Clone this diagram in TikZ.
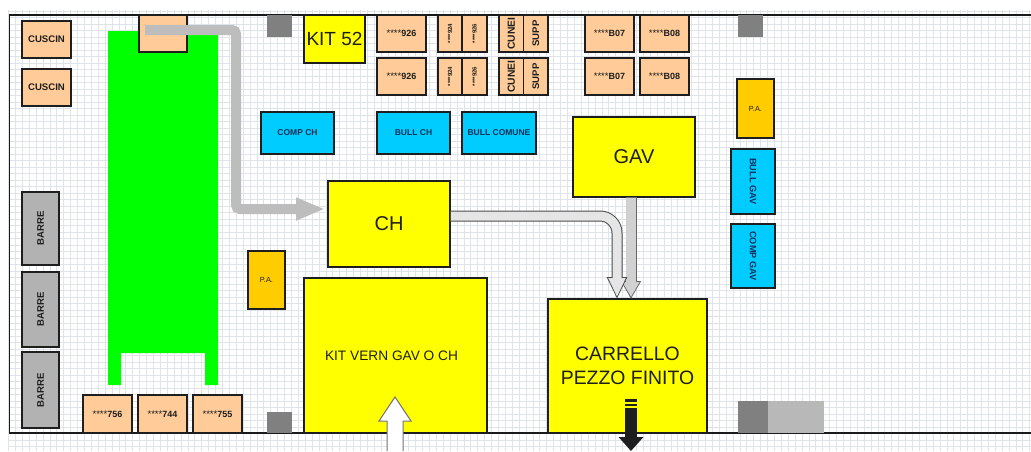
\documentclass[tikz,border=0pt]{standalone}
\usepackage{fontspec}
\setmainfont{Liberation Sans}
\usetikzlibrary{arrows.meta,calc}
\definecolor{peach}{HTML}{FFCC99}
\definecolor{skyb}{HTML}{00CCFF}
\definecolor{amber}{HTML}{FFCC00}
\definecolor{gridc}{HTML}{DFE3EA}
\definecolor{ink}{HTML}{1E1E1E}
\definecolor{pureyellow}{HTML}{FFFF00}
\definecolor{puregreen}{HTML}{00FF00}
\definecolor{navy}{HTML}{10305A}
\tikzset{
 px/.style={x=1pt,y=-1pt},
 boxbase/.style={draw=ink,line width=1.2pt,inner sep=0pt,outer sep=0pt,align=center,text=ink},
 peachbox/.style={boxbase,fill=peach,font=\bfseries\fontsize{9.6}{12}\selectfont},
 bluebox/.style={boxbase,fill=skyb,text=navy,font=\bfseries\fontsize{8.5}{11}\selectfont},
 yellowbox/.style={boxbase,fill=pureyellow},
 barrebox/.style={boxbase,fill=black!30,font=\bfseries\fontsize{9.6}{12}\selectfont},
 pabox/.style={boxbase,fill=amber,font=\fontsize{7.4}{9}\selectfont},
 greybox/.style={inner sep=0pt,outer sep=0pt},
}
\newcommand{\bx}[6]{%
 \node[#1,minimum width={(#5-#3)*1pt},minimum height={(#6-#4)*1pt},anchor=center] (#2) at ({(#3+#5)/2},{(#4+#6)/2})}
\newcommand{\st}[1]{{\fontsize{9.6}{10}\selectfont\mdseries ****}{\fontsize{9}{10}\selectfont #1}}
\newcommand{\tn}[1]{\rotatebox{90}{\fontsize{6}{7}\selectfont ****#1}}
\begin{document}
\begin{tikzpicture}[px]
\useasboundingbox (0,0) rectangle (1031,451);
\fill[white] (0,0) rectangle (1031,451);
% grid
\foreach \i in {0,...,148} \draw[gridc,line width=.65pt] ({8.5+\i*6.9},10) -- ({8.5+\i*6.9},451);
\foreach \j in {0,...,67} \draw[gridc,line width=.65pt] (8,{11+\j*6.5}) -- (1031,{11+\j*6.5});
% frame
\draw[black!90,line width=1.2pt] (1031,15) -- (9.5,15) -- (9.5,433) -- (1031,433);
% green
\fill[puregreen] (108,31) -- (218,31) -- (218,385) -- (205,385) -- (205,353) -- (121,353) -- (121,385) -- (108,385) -- cycle;
% grey blocks
\node[greybox,fill=black!50,minimum width=25pt,minimum height=22pt] (g1) at (279.5,26) {};
\node[greybox,fill=black!50,minimum width=25pt,minimum height=21pt] (g2) at (279.5,422.5) {};
\node[greybox,fill=black!50,minimum width=25pt,minimum height=22pt] (g3) at (750.5,26) {};
\node[greybox,fill=black!50,minimum width=30pt,minimum height=32pt] (g4) at (753,417) {};
\node[greybox,fill=black!28,minimum width=56pt,minimum height=32pt] (g5) at (796,417) {};
% peach
\bx{peachbox}{cus1}{22}{21}{71}{58}{CUSCIN};
\bx{peachbox}{cus2}{22}{69}{71}{106}{CUSCIN};
\bx{peachbox}{top}{139}{15}{187}{52}{};
\foreach \yy/\n in {15/a,58/b}{
 \bx{peachbox}{p926\n}{377}{\yy}{426}{\yy+37}{\st{926}};
 \bx{peachbox}{q924\n}{438}{\yy}{462}{\yy+37}{\tn{924}};
 \bx{peachbox}{q926\n}{462}{\yy}{487}{\yy+37}{\tn{926}};
 \bx{peachbox}{cun\n}{499}{\yy}{523.5}{\yy+37}{\rotatebox{90}{\fontsize{10.3}{12}\selectfont CUNEI}};
 \bx{peachbox}{sup\n}{523.5}{\yy}{548}{\yy+37}{\rotatebox{90}{SUPP}};
 \bx{peachbox}{b07\n}{585}{\yy}{634}{\yy+37}{\st{B07}};
 \bx{peachbox}{b08\n}{640}{\yy}{689}{\yy+37}{\st{B08}};
}
\bx{peachbox}{p756}{83}{395}{132}{433}{\st{756}};
\bx{peachbox}{p744}{138}{395}{187}{433}{\st{744}};
\bx{peachbox}{p755}{193}{395}{242}{433}{\st{755}};
% blue
\bx{bluebox}{compch}{261}{112}{334}{154}{COMP CH};
\bx{bluebox}{bullch}{377}{112}{450}{154}{BULL CH};
\bx{bluebox}{bullcom}{462}{112}{536}{154}{BULL COMUNE};
\bx{bluebox}{bullgav}{731}{149}{775}{214}{\rotatebox{-90}{\fontsize{9.2}{11}\selectfont BULL GAV}};
\bx{bluebox}{compgav}{731}{224}{775}{288}{\rotatebox{-90}{\fontsize{9.2}{11}\selectfont COMP GAV}};
% amber
\bx{pabox}{pa1}{737}{79}{774}{138}{P.A.};
\bx{pabox}{pa2}{248}{251}{285}{309}{P.A.};
% barre
\bx{barrebox}{bar1}{22}{192}{59}{265}{\rotatebox{90}{BARRE}};
\bx{barrebox}{bar2}{22}{272}{59}{347}{\rotatebox{90}{BARRE}};
\bx{barrebox}{bar3}{22}{352}{59}{428}{\rotatebox{90}{BARRE}};
% yellow
\bx{yellowbox,font=\fontsize{19}{21}\selectfont}{kit}{304}{15}{365}{63}{KIT 52};
\bx{yellowbox,font=\fontsize{20}{22}\selectfont}{gav}{573}{117}{695}{197}{GAV};
\bx{yellowbox,font=\fontsize{20}{22}\selectfont}{ch}{328}{181}{450}{267}{CH};
\bx{yellowbox}{vern}{304}{278}{487}{433}{};
\node[font=\fontsize{13.7}{16}\selectfont,text=ink,inner sep=0pt] (vernt) at (391.5,356) {KIT VERN GAV O CH};
\bx{yellowbox,font=\fontsize{19.4}{24}\selectfont}{carr}{548}{299}{707}{433}{CARRELLO\\[0pt]PEZZO FINITO};
% connectors
\coordinate (s1) at (145,30);
\draw[black!26,line width=10pt,rounded corners=4pt,-{Triangle[length=29pt,width=21pt]}] (s1) -- (236,30) -- (236,209) -- ($(ch.west)+(-3,-15)$);
% GAV -> CARRELLO
\coordinate (gavx) at (631,0);
\draw[black!60,line width=11pt,-{Triangle[length=18pt,width=19pt]}] (gav.south -| gavx) -- (carr.north -| gavx);
\draw[black!18,line width=9.4pt,-{Triangle[length=15pt,width=16pt]}] ($(gav.south -| gavx)+(0,1)$) -- ($(carr.north -| gavx)+(0,-2)$);
% CH -> CARRELLO
\coordinate (chx) at (617,0);
\coordinate (chy) at (0,216);
\draw[black!70,line width=11pt,rounded corners=17pt,-{Triangle[length=22pt,width=19pt]}] (ch.east |- chy) -- (chx |- chy) -- (carr.north -| chx);
\draw[black!10,line width=9pt,rounded corners=17pt,-{Triangle[length=19pt,width=16pt]}] ($(ch.east |- chy)+(1,0)$) -- (chx |- chy) -- ($(carr.north -| chx)+(0,-2)$);
% white entry arrow
\coordinate (wtip) at (395,397);
\draw[black!55,line width=1pt,fill=white] (387,451) -- (387,421) -- (379,421) -- (wtip) -- (411,421) -- (403,421) -- (403,451);
% black exit arrow
\coordinate (bstart) at (631,408);
\coordinate (bend) at (631,451);
\draw[ink,line width=12pt,-{Triangle[length=14pt,width=24pt]}] (bstart) -- (bend);
\fill[ink] (625,399) rectangle (637,402);
\fill[ink] (625,403.5) rectangle (637,406);
\end{tikzpicture}
\end{document}
